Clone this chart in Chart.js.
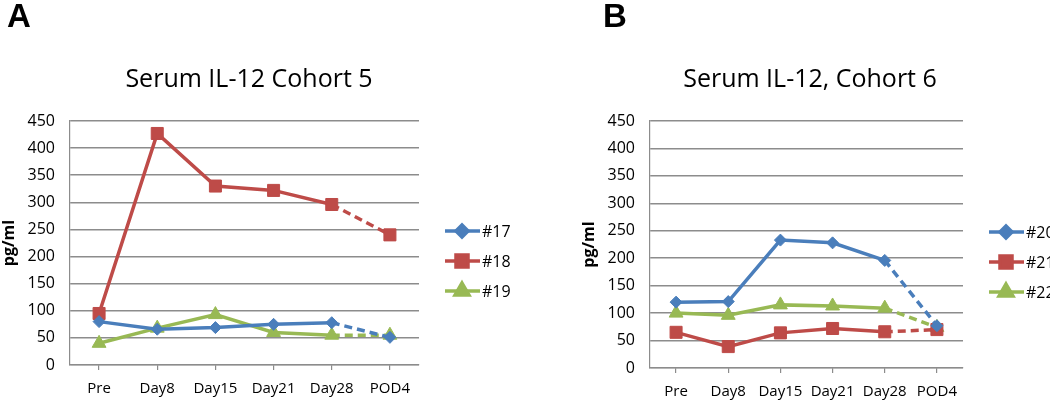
<!DOCTYPE html>
<html>
<head>
<meta charset="utf-8">
<script src="https://cdn.jsdelivr.net/npm/chart.js@4/dist/chart.umd.min.js"></script>
<style>
  body { margin: 0; background: #fff; }
  .panel { position: absolute; top: 0; width: 525px; height: 402px; }
</style>
</head>
<body>
<div class="panel" style="left:0"><canvas id="chartA" width="525" height="402"></canvas></div>
<div class="panel" style="left:525px"><canvas id="chartB" width="525" height="402"></canvas></div>
<script>
const days = ['Pre', 'Day8', 'Day15', 'Day21', 'Day28', 'POD4'];
const yTicks = [0, 50, 100, 150, 200, 250, 300, 350, 400, 450];

// Cohort 5
const p17 = [80, 66, 69, 75, 78, 51];
const p18 = [95, 427, 330, 322, 296, 240];
const p19 = [40, 68, 93, 60, 55, 55];

// Cohort 6
const p20 = [120, 121, 233, 228, 196, 77];
const p21 = [65, 39, 64, 72, 66, 70];
const p22 = [100, 96, 115, 113, 109, 74];

const BLUE = '#4a7ebb', RED = '#be4b48', GREEN = '#98b954';
const GRID = '#8c8c8c';
const FONT = '"Open Sans", sans-serif';

function series(label, data, color, style, radius) {
    return {
        label, data,
        borderColor: color,
        backgroundColor: color,
        pointBackgroundColor: color,
        pointBorderColor: color,
        pointStyle: style,
        pointRadius: radius,
        pointBorderWidth: 1,
        borderWidth: 3.5,
        tension: 0,
        segment: {
            borderDash: ctx => ctx.p1DataIndex === 5 ? [8, 5] : undefined
        }
    };
}

// panel letter, title and the legend at the right
const decor = {
    id: 'decor',
    afterDraw(chart, args, opts) {
        const ctx = chart.ctx;
        ctx.save();
        ctx.fillStyle = '#000';
        ctx.font = 'bold 33px "Liberation Sans", Arial, sans-serif';
        ctx.textBaseline = 'top';
        ctx.textAlign = 'left';
        ctx.fillText(opts.letter, opts.letterX, 1);

        ctx.font = '25px ' + FONT;
        ctx.textAlign = 'center';
        ctx.textBaseline = 'middle';
        ctx.fillText(opts.title, opts.titleX, 80);

        ctx.font = '16px ' + FONT;
        ctx.textAlign = 'left';
        chart.data.datasets.forEach((ds, i) => {
            const y = opts.legendY + i * 30;
            const x0 = opts.legendX;
            ctx.strokeStyle = ds.borderColor;
            ctx.lineWidth = 3.5;
            ctx.setLineDash([]);
            ctx.beginPath();
            ctx.moveTo(x0, y);
            ctx.lineTo(x0 + 35, y);
            ctx.stroke();
            ctx.fillStyle = ds.borderColor;
            Chart.helpers.drawPoint(ctx, { pointStyle: ds.pointStyle, radius: ds.pointRadius, rotation: 0, borderWidth: 1 }, x0 + 17, y);
            ctx.fillStyle = '#000';
            ctx.fillText(ds.label, x0 + 37, y + 1);
        });
        ctx.restore();
    }
};

function makeChart(id, datasets, cfg) {
    return new Chart(document.getElementById(id), {
        type: 'line',
        data: { labels: days, datasets },
        plugins: [decor],
        options: {
            responsive: false,
            animation: false,
            layout: { padding: { top: cfg.top, left: cfg.padLeft, right: cfg.padRight, bottom: 0 } },
            plugins: {
                legend: { display: false },
                tooltip: { enabled: false },
                decor: cfg.decor
            },
            scales: {
                x: {
                    offset: true,
                    afterFit: s => { s.height = cfg.xHeight; },
                    grid: { offset: false, drawOnChartArea: false, tickLength: 5, color: GRID, lineWidth: 1.2 },
                    border: { color: GRID, width: 1.2 },
                    ticks: {
                        color: '#000', font: { family: FONT, size: 15 }, padding: 10,
                        maxRotation: 0, minRotation: 0, autoSkip: false
                    }
                },
                y: {
                    min: 0, max: 450,
                    afterFit: s => { s.width = 70; },
                    afterBuildTicks: s => { s.ticks = yTicks.map(v => ({ value: v })); },
                    grid: { drawTicks: false, color: GRID, lineWidth: 1.5 },
                    border: { color: GRID, width: 1.2 },
                    ticks: { color: '#000', font: { family: FONT, size: 16 }, padding: 15 },
                    title: {
                        display: true, text: 'pg/ml', color: '#000',
                        font: { family: FONT, size: 16, weight: 'bold' },
                        padding: { top: 0, bottom: 0 }
                    }
                }
            }
        }
    });
}

makeChart('chartA', [
    series('#17', p17, BLUE, 'rectRot', 6),
    series('#18', p18, RED, 'rect', 8.5),
    series('#19', p19, GREEN, 'triangle', 8)
], {
    top: 121, padLeft: 0, padRight: 106, xHeight: 37,
    decor: { letter: 'A', letterX: 7, title: 'Serum IL-12 Cohort 5', titleX: 249, legendX: 445, legendY: 231 }
});

makeChart('chartB', [
    series('#20', p20, BLUE, 'rectRot', 6),
    series('#21', p21, RED, 'rect', 8.5),
    series('#22', p22, GREEN, 'triangle', 8)
], {
    top: 121, padLeft: 55, padRight: 87, xHeight: 34,
    decor: { letter: 'B', letterX: 78, title: 'Serum IL-12, Cohort 6', titleX: 285, legendX: 464, legendY: 232 }
});
</script>
</body>
</html>
